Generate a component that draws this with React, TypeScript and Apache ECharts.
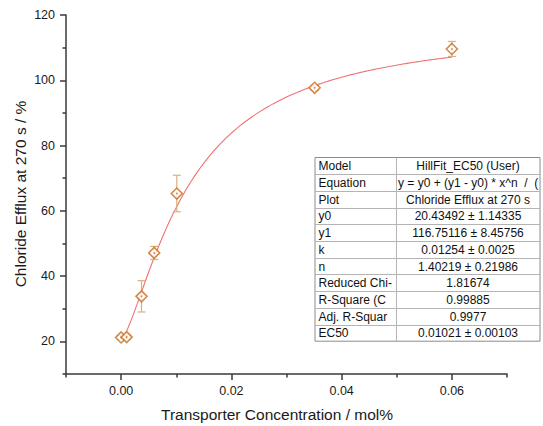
import React, { useEffect, useRef } from "react";
import * as echarts from "echarts";

// Measured chloride efflux at 270 s vs transporter loading
const concentration = [0, 0.001, 0.0037, 0.006, 0.0101, 0.0351, 0.06];
const effluxPercent = [21.2, 21.3, 33.8, 47.1, 65.3, 97.7, 109.6];
const effluxError = [0.6, 0.6, 4.8, 2.0, 5.6, 0.8, 2.3];

// Hill fit parameters (y0, y1, k, n) as reported by the fit
const fitY0 = 20.43492;
const fitY1 = 116.75116;
const fitK = 0.01254;
const fitN = 1.40219;
const fitStart = 0.001;
const fitEnd = 0.06;
const fitSamples = 120;

// Axis ticks
const xMajorTicks = [0, 0.02, 0.04, 0.06];
const xMinorTicks = [-0.01, 0.01, 0.03, 0.05, 0.07];
const yMajorTicks = [20, 40, 60, 80, 100, 120];
const yMinorTicks = [10, 30, 50, 70, 90, 110];

// Fit report table
const tableNames = [
  "Model", "Equation", "Plot", "y0", "y1", "k", "n",
  "Reduced Chi-", "R-Square (C", "Adj. R-Squar", "EC50",
];
const tableValues = [
  "HillFit_EC50 (User)",
  "y = y0 + (y1 - y0) * x^n  /  (",
  "Chloride Efflux at 270 s",
  "20.43492 ± 1.14335",
  "116.75116 ± 8.45756",
  "0.01254 ± 0.0025",
  "1.40219 ± 0.21986",
  "1.81674",
  "0.99885",
  "0.9977",
  "0.01021 ± 0.00103",
];

const FONT = "Arial, 'Liberation Sans', Helvetica, sans-serif";
const MARKER = "#c56d1c";
const ERRBAR = "#dcb07c";
const CURVE = "#f07272";
const AXIS = "#3a3a3a";

function hill(x: number): number {
  const xn = Math.pow(x, fitN);
  return fitY0 + ((fitY1 - fitY0) * xn) / (Math.pow(fitK, fitN) + xn);
}

function buildCurve(): number[][] {
  const pts: number[][] = [];
  for (let i = 0; i <= fitSamples; i++) {
    const x = fitStart + ((fitEnd - fitStart) * i) / fitSamples;
    pts.push([x, hill(x)]);
  }
  return pts;
}

function buildTable(): any[] {
  const left = 315;
  const top = 157.5;
  const right = 540;
  const split = 396;
  const rowH = 16.7;
  const n = tableNames.length;
  const bottom = top + rowH * n;
  const els: any[] = [];
  els.push({
    type: "rect",
    shape: { x: left, y: top, width: right - left, height: bottom - top },
    style: { fill: "#ffffff", stroke: "#8c8c8c", lineWidth: 1 },
    z: 10,
  });
  for (let i = 1; i < n; i++) {
    const y = Math.round(top + rowH * i) + 0.5;
    els.push({
      type: "line",
      shape: { x1: left, y1: y, x2: right, y2: y },
      style: { stroke: "#b4b4b4", lineWidth: 1 },
      z: 11,
    });
  }
  els.push({
    type: "line",
    shape: { x1: split + 0.5, y1: top, x2: split + 0.5, y2: bottom },
    style: { stroke: "#b4b4b4", lineWidth: 1 },
    z: 11,
  });
  for (let i = 0; i < n; i++) {
    const cy = top + rowH * i + rowH / 2 + 0.5;
    els.push({
      type: "text",
      x: left + 3.5,
      y: cy,
      style: {
        text: tableNames[i],
        font: `12px ${FONT}`,
        fill: "#111111",
        textAlign: "left",
        textVerticalAlign: "middle",
      },
      z: 12,
    });
    const isEquation = i === 1;
    els.push({
      type: "text",
      x: isEquation ? split + 2 : (split + right) / 2,
      y: cy,
      style: {
        text: tableValues[i],
        font: `12px ${FONT}`,
        fill: "#111111",
        textAlign: isEquation ? "left" : "center",
        textVerticalAlign: "middle",
      },
      z: 12,
    });
  }
  return els;
}

export default function App() {
  const ref = useRef<HTMLDivElement>(null);

  useEffect(() => {
    if (!ref.current) return;
    const chart = echarts.init(ref.current, null, { renderer: "svg" });

    const points = concentration.map((x, i) => [x, effluxPercent[i], effluxError[i]]);

    const tickStyle = { color: AXIS, width: 1.5 };

    const option: any = {
      animation: false,
      backgroundColor: "#ffffff",
      grid: { left: 66, right: 36, top: 15, bottom: 52, containLabel: false },
      xAxis: [
        {
          type: "value",
          min: -0.01,
          max: 0.07,
          splitLine: { show: false },
          axisLine: { show: true, onZero: false, lineStyle: tickStyle },
          axisTick: {
            show: true,
            inside: false,
            length: 6,
            customValues: xMajorTicks,
            lineStyle: tickStyle,
          },
          axisLabel: {
            customValues: xMajorTicks,
            formatter: (v: number) => v.toFixed(2),
            color: "#1a1a1a",
            fontFamily: FONT,
            fontSize: 12.5,
            margin: 10,
          },
        },
        {
          type: "value",
          min: -0.01,
          max: 0.07,
          position: "bottom",
          splitLine: { show: false },
          axisLine: { show: false, onZero: false },
          axisTick: {
            show: true,
            inside: false,
            length: 3.5,
            customValues: xMinorTicks,
            lineStyle: tickStyle,
          },
          axisLabel: { show: false },
        },
      ],
      yAxis: [
        {
          type: "value",
          min: 10,
          max: 120,
          splitLine: { show: false },
          axisLine: { show: true, onZero: false, lineStyle: tickStyle },
          axisTick: {
            show: true,
            inside: false,
            length: 6,
            customValues: yMajorTicks,
            lineStyle: tickStyle,
          },
          axisLabel: {
            customValues: yMajorTicks,
            color: "#1a1a1a",
            fontFamily: FONT,
            fontSize: 12.5,
            margin: 11,
          },
        },
        {
          type: "value",
          min: 10,
          max: 120,
          position: "left",
          splitLine: { show: false },
          axisLine: { show: false, onZero: false },
          axisTick: {
            show: true,
            inside: false,
            length: 3.5,
            customValues: yMinorTicks,
            lineStyle: tickStyle,
          },
          axisLabel: { show: false },
        },
      ],
      series: [
        {
          type: "line",
          data: buildCurve(),
          showSymbol: false,
          symbol: "none",
          lineStyle: { color: CURVE, width: 1.1 },
          z: 2,
          silent: true,
        },
        {
          type: "custom",
          data: points,
          z: 3,
          renderItem: (params: any, api: any) => {
            const x = api.value(0);
            const y = api.value(1);
            const e = api.value(2);
            const t = api.coord([x, y + e]);
            const b = api.coord([x, y - e]);
            const cw = 4;
            const st = { stroke: ERRBAR, lineWidth: 1.2 };
            return {
              type: "group",
              children: [
                { type: "line", shape: { x1: t[0], y1: t[1], x2: b[0], y2: b[1] }, style: st },
                { type: "line", shape: { x1: t[0] - cw, y1: t[1], x2: t[0] + cw, y2: t[1] }, style: st },
                { type: "line", shape: { x1: b[0] - cw, y1: b[1], x2: b[0] + cw, y2: b[1] }, style: st },
              ],
            };
          },
        },
        {
          type: "scatter",
          data: points.map((p) => [p[0], p[1]]),
          symbol: "diamond",
          symbolSize: 11,
          itemStyle: { color: "#ffffff", borderColor: MARKER, borderWidth: 1.6 },
          z: 4,
        },
        {
          type: "scatter",
          data: points.map((p) => [p[0], p[1]]),
          symbol: "circle",
          symbolSize: 1.8,
          itemStyle: { color: MARKER },
          z: 5,
        },
      ],
      graphic: [
        {
          type: "text",
          x: 20,
          y: 194,
          rotation: Math.PI / 2,
          style: {
            text: "Chloride Efflux at 270 s / %",
            font: `15.5px ${FONT}`,
            fill: "#1a1a1a",
            textAlign: "center",
            textVerticalAlign: "middle",
          },
        },
        {
          type: "text",
          x: 277,
          y: 414,
          style: {
            text: "Transporter Concentration / mol%",
            font: `15.5px ${FONT}`,
            fill: "#1a1a1a",
            textAlign: "center",
            textVerticalAlign: "middle",
          },
        },
        ...buildTable(),
      ],
    };

    chart.setOption(option);
    return () => chart.dispose();
  }, []);

  return (
    <div
      ref={ref}
      style={{ position: "fixed", left: 0, top: 0, width: 543, height: 426, background: "#fff" }}
    />
  );
}
